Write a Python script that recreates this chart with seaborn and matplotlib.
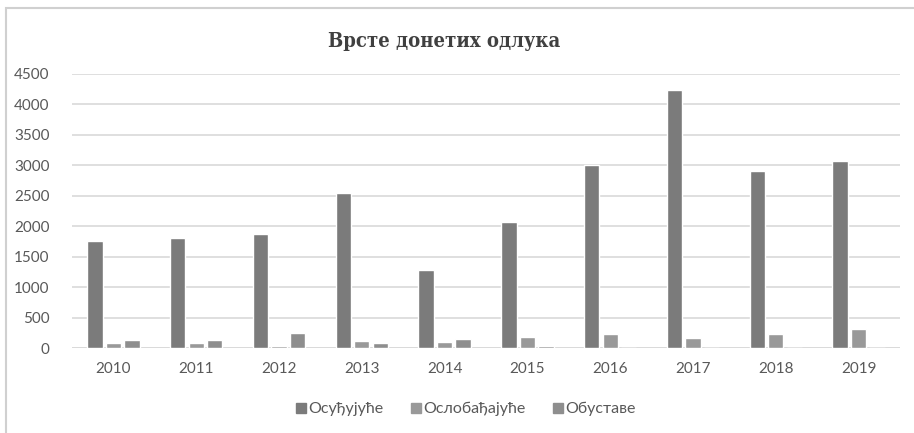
import pandas as pd
import numpy as np
import seaborn as sns
import matplotlib.pyplot as plt
from matplotlib.patches import Rectangle
from matplotlib.lines import Line2D

# data
years = ['2010', '2011', '2012', '2013', '2014', '2015', '2016', '2017', '2018', '2019']
osudjujuce = [1755, 1800, 1865, 2540, 1290, 2070, 3005, 4235, 2910, 3070]
oslobadjajuce = [95, 95, 35, 125, 110, 190, 235, 175, 235, 315]
obustave = [130, 130, 250, 95, 160, 30, 0, 0, 0, 0]
series = ['Осуђујуће', 'Ослобађајуће', 'Обуставе']
colors = ['#7b7b7b', '#999999', '#8e8e8e']

df = pd.DataFrame({
    'Година': years * 3,
    'Број': osudjujuce + oslobadjajuce + obustave,
    'Врста': [s for s in series for _ in years],
})

sns.set_style('white')
plt.rcParams['font.family'] = ['Lato', 'DejaVu Sans']

fig = plt.figure(figsize=(9.14, 4.33), dpi=100)
ax = fig.add_axes([72 / 914, 1 - 348.3 / 433, (900 - 72) / 914, (348.3 - 73.7) / 433])

sns.barplot(data=df, x='Година', y='Број', hue='Врста', palette=colors,
            width=0.67, gap=0.17, saturation=1, ax=ax, legend=False)

ax.set_ylim(0, 4500)
ax.set_yticks(np.arange(0, 4501, 500))
ax.set_xlim(-0.5, len(years) - 0.5)
ax.grid(axis='y', color='#d9d9d9', linewidth=1.2)
ax.set_axisbelow(True)
sns.despine(ax=ax, left=True, top=True, right=True, bottom=True)
ax.axhline(0, color='#d9d9d9', linewidth=1.2, zorder=0.5)
ax.tick_params(axis='both', length=0, labelsize=11, labelcolor='#595959')
ax.tick_params(axis='x', pad=10)
ax.tick_params(axis='y', pad=16)
ax.set_xlabel('')
ax.set_ylabel('')

fig.text(0.486, 1 - 41 / 433, 'Врсте донетих одлука', ha='center', va='center',
         fontsize=14.5, fontweight='bold', fontstretch='condensed', color='#404040',
         family=['DejaVu Serif', 'Liberation Serif'])

handles = [Line2D([], [], marker='s', linestyle='', color=c, markersize=7.5) for c in colors]
fig.legend(handles, series, loc='center', bbox_to_anchor=(0.508, 1 - 409 / 433),
           ncol=3, frameon=False, fontsize=11.5, labelcolor='#595959',
           handletextpad=0.0, columnspacing=1.5, handlelength=1.0)

# chart frame
fig.patches.append(Rectangle((6 / 914, -0.1), 1.2, 1 - 8 / 433 + 0.1,
                             transform=fig.transFigure, fill=False,
                             edgecolor='#d0d0d0', linewidth=1.5))

plt.savefig('out.png', dpi=100)
